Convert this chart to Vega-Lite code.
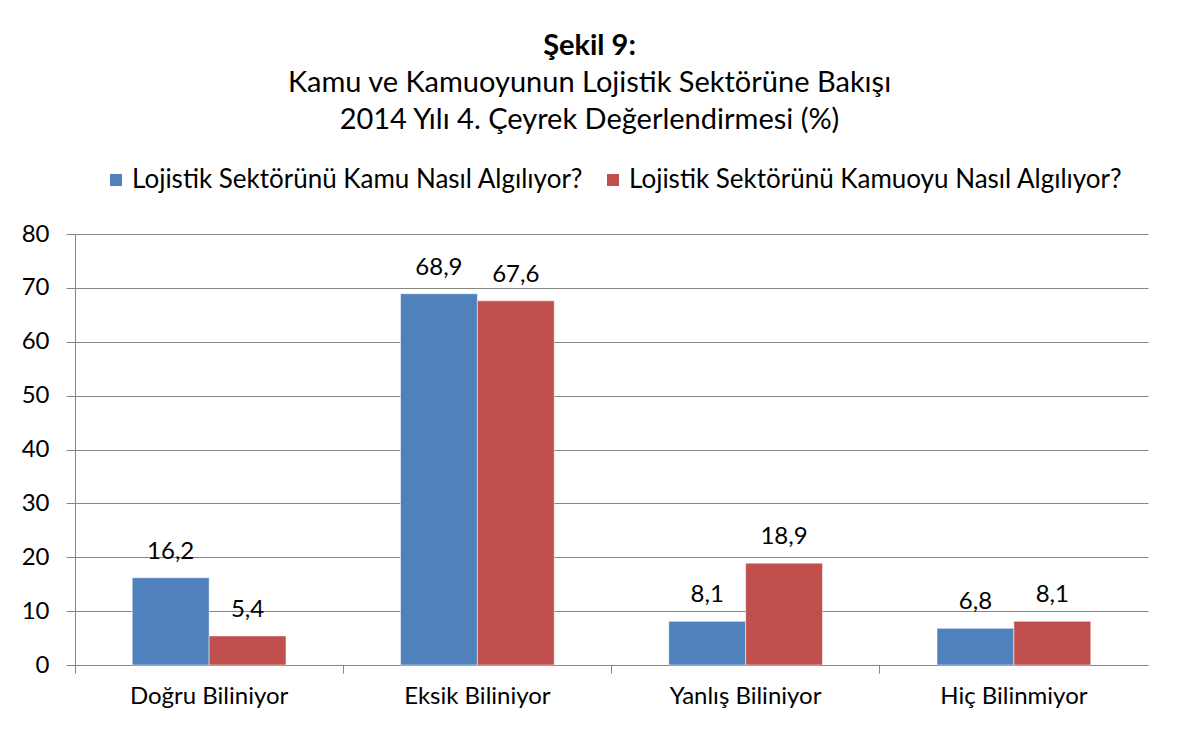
{
  "$schema": "https://vega.github.io/schema/vega-lite/v6.json",
  "autosize": "none",
  "width": 1073,
  "height": 431,
  "padding": {"left": 75, "top": 234, "right": 29, "bottom": 68},
  "background": "white",
  "title": {
    "text": "Şekil 9:",
    "subtitle": ["Kamu ve Kamuoyunun Lojistik Sektörüne Bakışı", "2014 Yılı 4. Çeyrek Değerlendirmesi (%)"],
    "anchor": "middle",
    "dx": -22,
    "font": "Lato",
    "fontSize": 29,
    "fontWeight": "bold",
    "color": "black",
    "subtitleFont": "Lato",
    "subtitleFontSize": 29,
    "subtitleColor": "black",
    "subtitleLineHeight": 37,
    "subtitlePadding": 8,
    "offset": 32
  },
  "data": {
    "values": [
      {"kategori": "Doğru Biliniyor", "seri": "Lojistik Sektörünü Kamu Nasıl Algılıyor?", "deger": 16.2},
      {"kategori": "Doğru Biliniyor", "seri": "Lojistik Sektörünü Kamuoyu Nasıl Algılıyor?", "deger": 5.4},
      {"kategori": "Eksik Biliniyor", "seri": "Lojistik Sektörünü Kamu Nasıl Algılıyor?", "deger": 68.9},
      {"kategori": "Eksik Biliniyor", "seri": "Lojistik Sektörünü Kamuoyu Nasıl Algılıyor?", "deger": 67.6},
      {"kategori": "Yanlış Biliniyor", "seri": "Lojistik Sektörünü Kamu Nasıl Algılıyor?", "deger": 8.1},
      {"kategori": "Yanlış Biliniyor", "seri": "Lojistik Sektörünü Kamuoyu Nasıl Algılıyor?", "deger": 18.9},
      {"kategori": "Hiç Bilinmiyor", "seri": "Lojistik Sektörünü Kamu Nasıl Algılıyor?", "deger": 6.8},
      {"kategori": "Hiç Bilinmiyor", "seri": "Lojistik Sektörünü Kamuoyu Nasıl Algılıyor?", "deger": 8.1}
    ]
  },
  "encoding": {
    "x": {
      "field": "kategori",
      "type": "nominal",
      "sort": null,
      "scale": {"paddingInner": 0, "paddingOuter": 0},
      "axis": {
        "title": null,
        "labelAngle": 0,
        "labelFont": "Lato",
        "labelFontSize": 24,
        "labelColor": "black",
        "labelPadding": 11,
        "bandPosition": 0,
        "tickSize": 8,
        "tickColor": "#868686",
        "domainColor": "#868686",
        "grid": false
      }
    },
    "xOffset": {
      "field": "seri",
      "type": "nominal",
      "scale": {"paddingInner": 0, "paddingOuter": 0.745}
    },
    "y": {
      "field": "deger",
      "type": "quantitative",
      "scale": {"domain": [0, 80], "nice": false},
      "axis": {
        "title": null,
        "values": [0, 10, 20, 30, 40, 50, 60, 70, 80],
        "labelFont": "Lato",
        "labelFontSize": 24,
        "labelColor": "black",
        "labelPadding": 17,
        "tickSize": 9,
        "tickColor": "#868686",
        "domainColor": "#868686",
        "gridColor": "#868686",
        "gridOpacity": 1
      }
    }
  },
  "layer": [
    {
      "mark": {"type": "bar", "stroke": "white", "strokeWidth": 0.5},
      "encoding": {
        "color": {
          "field": "seri",
          "type": "nominal",
          "scale": {"range": ["#4F81BD", "#C0504D"]},
          "legend": {
            "title": null,
            "orient": "none",
            "direction": "horizontal",
            "legendX": 28,
            "legendY": -67,
            "symbolType": "square",
            "symbolSize": 144,
            "symbolStrokeWidth": 0,
            "symbolOpacity": 1,
            "labelFont": "Lato",
            "labelFontSize": 26,
            "labelColor": "black",
            "labelOffset": 3,
            "labelLimit": 700,
            "columnPadding": 16
          }
        }
      }
    },
    {
      "mark": {"type": "text", "baseline": "bottom", "dy": -14, "font": "Lato", "fontSize": 24, "color": "black"},
      "encoding": {
        "text": {"field": "deger", "type": "quantitative", "format": ".1f"}
      }
    }
  ],
  "config": {
    "locale": {"number": {"decimal": ",", "thousands": ".", "grouping": [3], "currency": ["", " TL"]}},
    "view": {"stroke": null}
  }
}
